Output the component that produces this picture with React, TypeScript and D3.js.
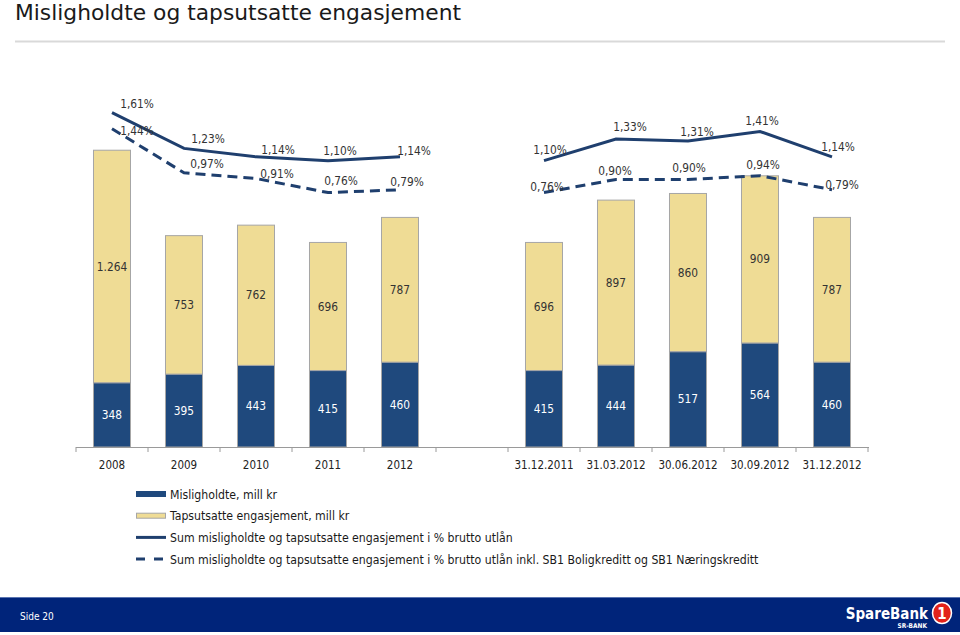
import React from "react";
import * as d3 from "d3";

// ---------- data ----------
const annualCategories = ["2008", "2009", "2010", "2011", "2012"];
const quarterCategories = ["31.12.2011", "31.03.2012", "30.06.2012", "30.09.2012", "31.12.2012"];
const categories = [...annualCategories, ...quarterCategories];
const misligholdte = [348, 395, 443, 415, 460, 415, 444, 517, 564, 460];
const tapsutsatte = [1264, 753, 762, 696, 787, 696, 897, 860, 909, 787];
const pctSum = [1.61, 1.23, 1.14, 1.1, 1.14, 1.1, 1.33, 1.31, 1.41, 1.14];
const pctInkl = [1.44, 0.97, 0.91, 0.76, 0.79, 0.76, 0.9, 0.9, 0.94, 0.79];
const legendLabels = [
  "Misligholdte, mill kr",
  "Tapsutsatte engasjement, mill kr",
  "Sum misligholdte og tapsutsatte engasjement i % brutto utlån",
  "Sum misligholdte og tapsutsatte engasjement i % brutto utlån inkl. SB1 Boligkreditt og SB1 Næringskreditt",
];

// label placement offsets (layout only)
const sumLabelDx = [25, 24, 22, 12, 14, 6, 14, 9, 2, 6];
const sumLabelDy = [-9, -9, -7, -10, -6, -11, -12, -9, -10, -10];
const inklLabelDx = [25, 23, 21, 13, 7, 3, -1, 1, 3, 10];
const inklLabelDy = [2, -9, -4, -12, -8, -6, -8, -11, -11, -5];

// ---------- style ----------
const BLUE = "#1f497d";
const YELLOW = "#efdc95";
const BAR_STROKE = "#a6a6a6";
const LINE = "#1f3f6e";
const TEXT = "#333333";
const FONT = "'DejaVu Sans Condensed', 'DejaVu Sans', sans-serif";

const nb = d3.formatLocale({ decimal: ",", thousands: ".", grouping: [3], currency: ["", " kr"] });
const fmtInt = nb.format(",d");
const fmtPct = (v: number) => nb.format(".2f")(v) + "%";

export default function App() {
  const slots = [...annualCategories, "__gap__", ...quarterCategories];
  const x = d3
    .scaleBand<string>()
    .domain(slots)
    .range([76, 868])
    .paddingInner(0.486)
    .paddingOuter(0.243);
  const axisY = 447;
  const yBar = d3.scaleLinear().domain([0, 1800]).range([axisY, 115.6]);
  const yPct = d3.scaleLinear().domain([0, 1.61]).range([264, 112.7]);
  const bw = x.bandwidth();
  const cx = (c: string) => (x(c) as number) + bw / 2;

  const line = d3
    .line<{ c: string; v: number }>()
    .x((d) => cx(d.c))
    .y((d) => yPct(d.v));

  const groupsIdx = [
    [0, 1, 2, 3, 4],
    [5, 6, 7, 8, 9],
  ];

  const step = x.step();
  const tickXs = d3.range(slots.length + 1).map((i) => 76 + i * step);

  return (
    <svg
      width={960}
      height={635}
      style={{ position: "absolute", left: 0, top: 0, background: "#fff" }}
      fontFamily={FONT}
    >
      <rect x={0} y={0} width={960} height={635} fill="#fff" />
      {/* title */}
      <text x={15} y={20} fontFamily="'DejaVu Sans', sans-serif" fontSize={21.8} fill="#1a1a1a">
        Misligholdte og tapsutsatte engasjement
      </text>
      <line x1={15} x2={945} y1={41.5} y2={41.5} stroke="#d9d9d9" strokeWidth={2} />

      {/* bars */}
      {categories.map((c, i) => {
        const x0 = x(c) as number;
        const yb = yBar(misligholdte[i]);
        const yt = yBar(misligholdte[i] + tapsutsatte[i]);
        return (
          <g key={c}>
            <rect x={x0} y={yt} width={bw} height={yb - yt} fill={YELLOW} stroke={BAR_STROKE} strokeWidth={1} />
            <rect x={x0} y={yb} width={bw} height={axisY - yb} fill={BLUE} stroke={BAR_STROKE} strokeWidth={1} />
            <text
              x={cx(c)}
              y={(yb + axisY) / 2 + 4}
              textAnchor="middle"
              fontSize={11.8}
              fill="#ffffff"
              fontStretch="condensed"
            >
              {fmtInt(misligholdte[i])}
            </text>
            <text
              x={cx(c)}
              y={(yt + yb) / 2 + 4}
              textAnchor="middle"
              fontSize={11.8}
              fill={TEXT}
              fontStretch="condensed"
            >
              {fmtInt(tapsutsatte[i])}
            </text>
          </g>
        );
      })}

      {/* axis */}
      <line x1={76} x2={869} y1={axisY + 0.5} y2={axisY + 0.5} stroke="#9a9a9a" strokeWidth={1} />
      {tickXs.map((t, i) => (
        <line key={i} x1={t} x2={t} y1={axisY} y2={axisY + 5} stroke="#9a9a9a" strokeWidth={1} />
      ))}
      {categories.map((c) => (
        <text key={c} x={cx(c)} y={469} textAnchor="middle" fontSize={11.5} fill="#222" fontStretch="condensed">
          {c}
        </text>
      ))}

      {/* lines */}
      {groupsIdx.map((g, gi) => (
        <g key={gi}>
          <path
            d={line(g.map((i) => ({ c: categories[i], v: pctSum[i] }))) || ""}
            fill="none"
            stroke={LINE}
            strokeWidth={3}
          />
          <path
            d={line(g.map((i) => ({ c: categories[i], v: pctInkl[i] }))) || ""}
            fill="none"
            stroke={LINE}
            strokeWidth={3}
            strokeDasharray="10,6"
          />
        </g>
      ))}
      {categories.map((c, i) => (
        <g key={"pl" + c}>
          <text
            x={cx(c) + sumLabelDx[i]}
            y={yPct(pctSum[i]) + sumLabelDy[i] + 4}
            textAnchor="middle"
            fontSize={11.8}
            fill={TEXT}
            fontStretch="condensed"
          >
            {fmtPct(pctSum[i])}
          </text>
          <text
            x={cx(c) + inklLabelDx[i]}
            y={yPct(pctInkl[i]) + inklLabelDy[i] + 4}
            textAnchor="middle"
            fontSize={11.8}
            fill={TEXT}
            fontStretch="condensed"
          >
            {fmtPct(pctInkl[i])}
          </text>
        </g>
      ))}

      {/* legend */}
      {legendLabels.map((l, i) => {
        const ly = 494 + i * 21.7;
        return (
          <g key={l}>
            {i === 0 && <rect x={136} y={ly - 3} width={30} height={6} fill={BLUE} />}
            {i === 1 && <rect x={136.5} y={ly - 2.5} width={29} height={5} fill={YELLOW} stroke={BAR_STROKE} />}
            {i === 2 && <line x1={136} x2={166} y1={ly} y2={ly} stroke={LINE} strokeWidth={3} />}
            {i === 3 && (
              <line x1={136} x2={166} y1={ly} y2={ly} stroke={LINE} strokeWidth={3} strokeDasharray="9,9" />
            )}
            <text x={170} y={ly + 4.5} fontSize={12.2} fill="#1a1a1a" fontStretch="condensed">
              {l}
            </text>
          </g>
        );
      })}

      {/* footer */}
      <rect x={0} y={597} width={960} height={35} fill="#00247a" />
      <line x1={0} x2={960} y1={597.5} y2={597.5} stroke="#5a74b0" strokeWidth={1} />
      <text x={20} y={620} fontSize={10} fill="#ffffff" fontStretch="condensed">
        Side 20
      </text>
      <text
        x={928}
        y={619}
        textAnchor="end"
        fontFamily="'DejaVu Sans', sans-serif"
        fontWeight="bold"
        fontSize={15}
        fill="#ffffff"
        fontStretch="condensed"
      >
        SpareBank
      </text>
      <text x={927} y={628} textAnchor="end" fontSize={6.5} fontWeight="bold" fill="#ffffff">
        SR-BANK
      </text>
      <ellipse cx={942} cy={613} rx={9.5} ry={10.5} fill="#e2231a" stroke="#ffffff" strokeWidth={1.5} />
      <text x={942} y={619} textAnchor="middle" fontSize={15} fontWeight="bold" fill="#ffffff">
        1
      </text>
    </svg>
  );
}
